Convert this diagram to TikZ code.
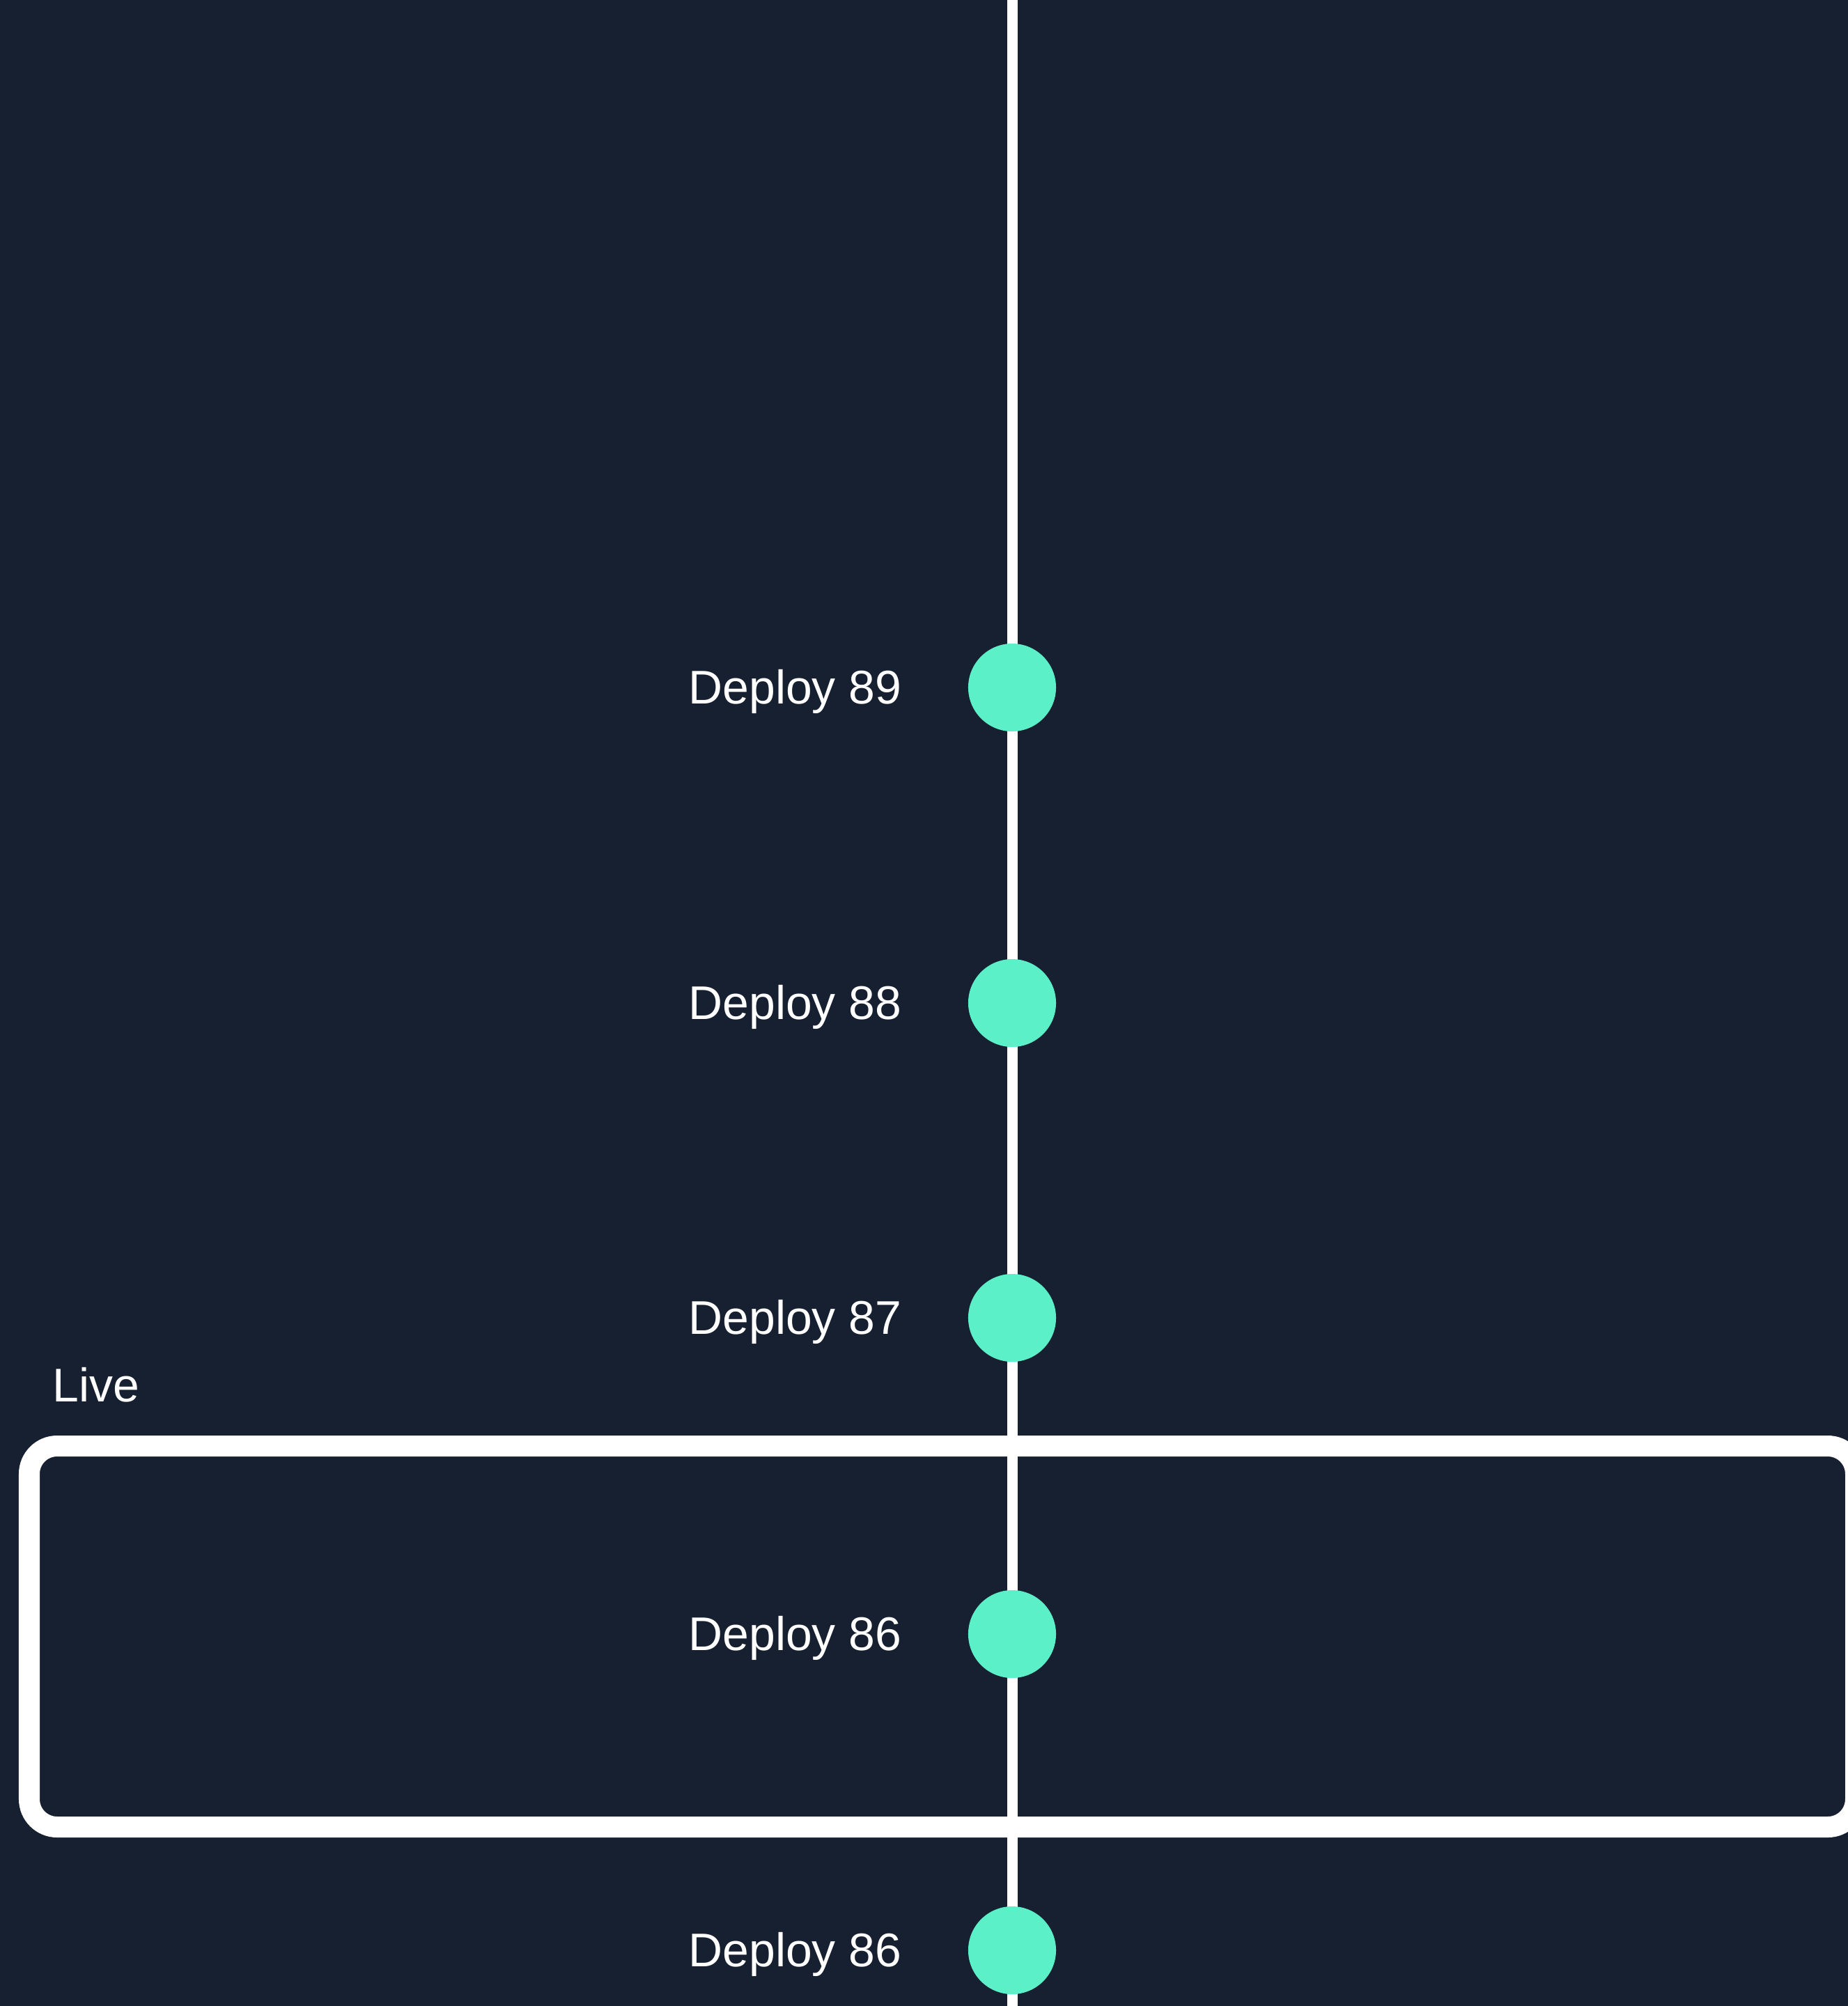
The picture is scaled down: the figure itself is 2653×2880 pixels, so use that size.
\documentclass[tikz,border=0pt]{standalone}
\usepackage{fontspec}
\setmainfont{Liberation Sans}
\usepackage{tikz}
\definecolor{bgnavy}{HTML}{162030}
\definecolor{dotgreen}{HTML}{5CF0C8}
\tikzset{
  deploydot/.style = {circle, fill=dotgreen, minimum size=1.26cm, inner sep=0pt},
  deploylabel/.style = {anchor=base east, inner sep=0pt, text=white,
    font=\fontsize{19.3pt}{24pt}\selectfont}
}

\begin{document}
\begin{tikzpicture}[x = 0.01cm, y = -0.01cm, auto = center]
        \fill[bgnavy] (0,0) rectangle (2653,2880);
        \useasboundingbox (0,0) rectangle (2653,2880);
        \clip (0,0) rectangle (2653,2880);
        % timeline
        \coordinate (top) at (1453,0);
        \coordinate (bottom) at (1453,2880);
        \draw[white, line width = 0.15cm] (top) -- (bottom);
        % live frame
        \draw[white, line width = 0.3cm, rounded corners = 0.4cm] (42,2076) rectangle (2664,2623);
        \node[deploylabel, anchor=base west] (live) at (75,2012) {Live};
        % deploys
        \node[deploydot] (d89) at (1453,987) {};
        \node[deploydot] (d88) at (1453,1440) {};
        \node[deploydot] (d87) at (1453,1892) {};
        \node[deploydot] (d86) at (1453,2346) {};
        \node[deploydot] (d86b) at (1453,2800) {};
        \node[deploylabel] (l89) at (1295,1010) {Deploy 89};
        \node[deploylabel] (l88) at (1295,1463) {Deploy 88};
        \node[deploylabel] (l87) at (1295,1915) {Deploy 87};
        \node[deploylabel] (l86) at (1295,2369) {Deploy 86};
        \node[deploylabel] (l86b) at (1295,2823) {Deploy 86};
      \end{tikzpicture}
\end{document}
